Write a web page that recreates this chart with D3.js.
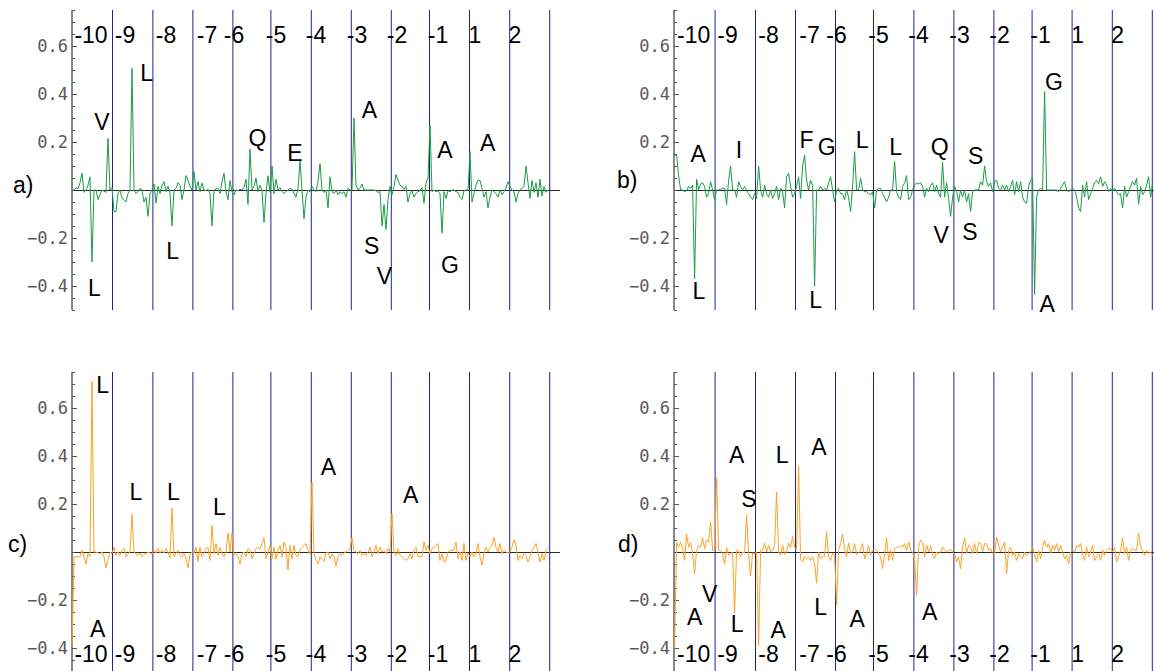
<!DOCTYPE html>
<html>
<head>
<meta charset="utf-8">
<script src="https://cdn.jsdelivr.net/npm/d3@7"></script>
<style>
  html, body { margin: 0; padding: 0; background: #fff; }
  svg { display: block; }
</style>
</head>
<body>
<svg id="chart" width="1154" height="671"></svg>
<script>
// Per-position signal for the four profiles (index = sequence position)
const seriesA = [
  0, 0, 0.01, 0.005, 0.03, 0.07, -0.01, 0, 0.02, 0.055,
  -0.30, 0, 0, -0.04, -0.02, 0, -0.005, -0.01, 0.215, 0,
  0.01, -0.09, -0.09, -0.015, 0, -0.035, -0.04, -0.05, -0.015, 0,
  0.507, 0, -0.015, -0.007, 0.007, 0, -0.05, -0.03, -0.11, -0.015,
  0, 0.025, -0.055, 0.015, -0.015, 0.02, 0.035, -0.007, 0.015, -0.015,
  -0.15, 0, 0.007, 0.03, 0.02, -0.04, 0, 0.06, 0.04, 0.015,
  0, 0.077, 0, 0.035, -0.007, 0.03, 0, -0.003, 0.003, -0.015,
  -0.15, 0, 0.005, 0.007, -0.015, 0.035, 0.07, -0.007, -0.04, 0.04,
  -0.007, -0.02, 0, -0.003, 0.003, 0, 0.01, 0.045, -0.06, 0.17,
  0, 0.015, 0.05, -0.007, 0.02, -0.003, -0.135, -0.015, 0.06, -0.01,
  0.1, -0.015, 0.045, 0, 0.01, -0.007, -0.015, -0.007, 0, 0.007,
  0.003, -0.015, -0.03, 0.007, 0.12, 0, -0.12, -0.03, 0, -0.007,
  0.015, 0, -0.007, 0.035, 0.11, 0, -0.01, 0, -0.075, 0.055,
  -0.007, -0.015, 0, -0.02, -0.007, -0.015, -0.007, -0.03, 0.007, 0,
  0, 0.30, 0.02, 0, 0.007, 0.025, 0, 0, 0, 0,
  0, 0, -0.003, -0.01, -0.007, -0.15, -0.06, -0.165, -0.04, 0.015,
  -0.02, 0.015, 0.065, 0.04, 0.02, 0.015, 0.003, 0.015, -0.05, -0.015,
  -0.003, -0.03, -0.015, -0.007, -0.003, 0.01, -0.055, 0.03, 0.05, 0.27,
  -0.007, 0, -0.007, -0.003, -0.015, -0.18, -0.007, -0.035, -0.003, -0.007,
  0, 0, -0.007, -0.01, -0.03, -0.04, -0.003, 0, 0, 0.16,
  -0.05, -0.015, 0.02, 0.04, 0.04, 0.007, -0.03, -0.007, -0.075, -0.03,
  0, -0.007, -0.015, -0.03, 0, -0.02, -0.007, 0.007, 0.035, 0.015,
  0, -0.007, -0.05, -0.015, 0, 0.007, 0.015, 0.1, 0.03, -0.035,
  0.04, -0.01, 0.03, -0.03, 0.045, -0.025, 0.015, -0.01, 0
];

const seriesB = [
  0.145, 0.145, 0.06, 0, 0, -0.007, -0.003, 0.015, 0.007, 0.02,
  -0.37, 0.045, 0, 0.025, 0.03, 0.015, -0.03, -0.015, 0.035, 0,
  -0.04, 0, 0, 0.003, 0.007, 0.007, -0.06, 0.04, 0.1, 0,
  0, -0.03, 0.035, 0.015, 0, 0.015, 0, -0.015, -0.03, -0.04,
  -0.015, -0.035, 0.1, 0, -0.03, 0.02, -0.015, -0.03, 0, -0.035,
  -0.015, 0.015, -0.04, 0.007, -0.007, -0.075, 0.055, 0.07, 0.015, -0.03,
  -0.015, 0.015, 0.055, -0.035, 0.1, 0.145, 0.04, 0, 0.04, 0.02,
  -0.40, 0, 0, 0.015, 0, 0.007, 0, 0.03, 0.055, 0,
  -0.05, 0, 0.007, -0.015, -0.015, -0.04, 0, -0.03, -0.09, 0.015,
  0.16, 0, 0, 0.05, 0, -0.007, -0.007, -0.015, -0.02, -0.007,
  -0.075, 0, 0.007, 0.007, -0.015, -0.03, -0.05, -0.03, 0, 0,
  0.12, -0.007, -0.03, -0.04, 0.015, 0.03, 0.06, -0.04, -0.03, 0,
  0.02, 0.03, 0.025, 0.03, 0.015, -0.03, 0.007, -0.007, 0.02, 0.03,
  -0.007, 0.02, -0.015, -0.03, 0.115, -0.03, 0.03, -0.035, -0.11, -0.03,
  0.015, -0.007, -0.05, 0, -0.03, 0, -0.05, -0.015, -0.09, -0.007,
  0, 0, 0, 0.035, 0.02, 0.1, 0.035, 0.015, 0.03, -0.007,
  0.035, 0.04, 0.007, 0, 0.02, 0, 0.02, -0.007, 0.015, 0.04,
  -0.02, 0.035, -0.007, 0.035, -0.03, -0.05, -0.055, 0.015, 0.04, 0.05,
  -0.435, -0.03, 0, 0.007, 0, 0.41, 0, 0, 0, 0,
  0, 0, -0.007, 0.007, 0.02, 0.035, 0, -0.007, 0, 0.007,
  0, -0.03, -0.075, -0.09, 0.02, -0.03, 0.035, -0.04, -0.015, 0.007,
  0.03, 0.04, 0.025, 0.055, 0.015, 0.035, 0.02, -0.007, 0.007, -0.007,
  0.007, -0.007, -0.02, -0.015, -0.075, 0.015, -0.03, -0.007, 0.015, 0.035,
  0.02, 0.05, -0.06, 0.015, -0.02, -0.007, 0.02, 0.055, -0.03, 0.03
];

const seriesC = [
  -0.395, -0.02, -0.02, -0.02, -0.02, 0.007, -0.02, -0.05, -0.007, -0.02,
  0.71, 0, 0, -0.004, -0.007, 0, -0.02, -0.065, -0.035, 0,
  -0.007, 0.02, -0.014, 0, -0.014, 0.007, 0.014, -0.02, -0.007, 0,
  0.157, 0, -0.007, -0.014, -0.004, -0.02, -0.01, -0.007, 0, -0.004,
  -0.01, 0.007, -0.004, 0.014, -0.004, 0.007, -0.004, 0.014, 0, -0.024,
  0.183, -0.02, -0.004, 0.007, -0.014, -0.02, -0.007, -0.028, -0.065, -0.007,
  0, -0.004, 0.02, -0.04, 0.02, -0.02, -0.007, 0.014, 0.02, -0.035,
  0.11, -0.007, 0.035, -0.014, 0.02, -0.007, -0.02, 0, 0.08, 0,
  0.08, -0.014, -0.007, -0.02, -0.05, -0.007, 0, -0.02, 0.014, 0.007,
  -0.028, -0.007, 0.014, 0.02, 0.014, 0.035, 0.06, -0.028, 0, 0.028,
  -0.028, 0.02, -0.028, 0.007, 0.028, -0.02, 0.042, 0.02, -0.075, 0.028,
  -0.028, 0.028, -0.014, -0.02, 0.01, 0.02, 0.028, 0.035, 0.007, -0.01,
  0.29, -0.007, -0.035, -0.05, -0.02, -0.03, -0.04, -0.004, 0, -0.028,
  -0.007, -0.02, -0.06, -0.02, -0.007, -0.014, -0.004, 0, 0.007, 0.014,
  0.06, 0.007, 0, -0.007, 0.007, -0.014, -0.007, -0.014, 0, 0.02,
  -0.02, 0, 0.028, -0.007, 0.02, 0, 0.007, -0.007, 0.014, 0,
  0.16, 0, -0.014, 0.014, -0.014, -0.02, -0.028, -0.035, -0.028, -0.007,
  -0.028, 0.007, 0.02, -0.02, -0.02, -0.02, 0.042, 0.007, 0.028, -0.007,
  0.014, 0.02, 0.028, 0.035, -0.035, -0.007, -0.042, -0.035, 0, 0.007,
  0.007, 0.007, 0.042, -0.028, 0, -0.035, 0.035, -0.035, -0.004, -0.02,
  0, -0.02, -0.007, 0.035, -0.02, -0.055, -0.004, 0.02, 0, 0.02,
  0.028, 0.06, 0.02, 0, 0.035, -0.007, 0.007, 0, -0.004, 0,
  0.02, 0.05, 0.028, -0.035, -0.014, -0.028, -0.007, -0.014, -0.042, -0.02,
  0.007, 0.02, 0.035, 0, -0.042, -0.007, -0.035, 0.007, 0.018
];

const seriesD = [
  -0.395, 0.04, 0.02, 0.04, 0.014, -0.035, 0.075, 0.02, 0.04, -0.004,
  -0.09, 0.007, 0.028, 0.02, 0.06, 0.014, 0.05, 0.042, 0.125, 0.007,
  0.007, 0.31, 0.007, 0.007, -0.007, -0.05, 0.018, -0.014, -0.007, 0,
  -0.255, 0.007, 0.007, -0.02, 0, -0.004, 0.155, -0.007, -0.1, -0.004,
  -0.007, 0, -0.39, 0.007, 0.007, 0.038, 0, 0.028, 0, 0.007,
  0.028, 0.25, 0, -0.014, 0.028, -0.01, 0, 0.038, 0.018, 0.065,
  0.02, 0.01, 0.36, -0.032, -0.042, -0.02, -0.028, -0.02, -0.035, -0.02,
  -0.049, -0.13, 0, -0.028, -0.02, -0.018, 0.085, -0.02, -0.035, -0.007,
  -0.01, -0.22, 0.007, 0.035, 0.075, 0.014, -0.02, 0.038, -0.007, 0,
  0.035, -0.01, -0.004, 0.007, 0.035, -0.028, -0.007, 0.028, -0.014, 0.007,
  0.014, 0.007, -0.004, -0.02, -0.07, -0.007, 0.06, -0.035, 0.007, -0.035,
  0.014, 0.02, 0.02, 0.028, 0.02, 0.035, 0.007, 0.042, 0.007, 0,
  -0.035, -0.18, 0.02, 0.05, 0.042, -0.02, 0.028, 0, 0.028, -0.014,
  -0.028, 0, -0.007, 0, 0.02, 0.007, 0, 0.007, 0.01, 0,
  -0.007, -0.042, -0.02, -0.07, 0.02, 0.06, -0.007, 0.028, 0.02, -0.007,
  0.035, -0.007, 0.038, 0.038, 0, 0.035, 0.035, 0.007, 0.014, -0.007,
  -0.007, 0.06, 0.028, 0, 0.02, 0.042, -0.09, 0.007, 0.02, -0.014,
  0, -0.035, -0.007, -0.02, -0.028, 0, -0.014, -0.007, 0, 0.02,
  -0.007, -0.042, 0.007, -0.028, 0.02, 0.049, 0.02, 0.035, -0.007, 0.028,
  0.007, 0.035, 0, 0.028, 0, -0.028, -0.014, -0.049, 0, 0.007,
  0, 0.028, 0.02, 0.035, -0.014, -0.035, 0.02, -0.02, 0, 0.028,
  -0.035, -0.02, -0.007, -0.035, 0.007, -0.014, 0.007, 0.014, 0.014, 0,
  0.02, -0.042, -0.02, 0.007, 0.06, -0.007, 0.02, -0.035, 0.007, 0.014,
  0.007, 0.007, 0.08, 0.02, 0.007, -0.014, 0.007, -0.007, 0, -0.014
];

// Residue letters: [letter, position index, value level]
const lettersA = [
  ["V", 14.9, 0.285], ["L", 37.3, 0.487], ["L", 11.2, -0.408], ["L", 50.3, -0.253],
  ["Q", 92.7, 0.218], ["E", 111.5, 0.154], ["A", 148.7, 0.336], ["S", 149.8, -0.232],
  ["V", 156.2, -0.358], ["A", 186.5, 0.167], ["G", 189, -0.31], ["A", 207.8, 0.199]
];
const lettersB = [
  ["A", 11.8, 0.15], ["L", 12.2, -0.42], ["I", 32.2, 0.167], ["F", 66, 0.211],
  ["G", 76, 0.18], ["L", 70.5, -0.458], ["L", 93.8, 0.211], ["L", 110.5, 0.18],
  ["Q", 132.5, 0.18], ["V", 133.3, -0.1875], ["S", 150.5, 0.142], ["S", 147.7, -0.174],
  ["A", 186.3, -0.475], ["G", 189.7, 0.451]
];
const lettersC = [
  ["L", 15.3, 0.696], ["A", 12.8, -0.318], ["L", 32, 0.251], ["L", 50.7, 0.251],
  ["L", 73.7, 0.189], ["A", 128.2, 0.355], ["A", 169.3, 0.2375]
];
const lettersD = [
  ["A", 10, -0.27], ["V", 17.5, -0.172], ["A", 31, 0.404], ["S", 37.2, 0.224],
  ["L", 31.3, -0.297], ["L", 53.8, 0.404], ["A", 51.8, -0.325], ["A", 72.2, 0.439],
  ["L", 73, -0.228], ["A", 91.3, -0.276], ["A", 127.5, -0.249]
];

// Segment boundaries and segment labels along the sequence
const boundaries = [20, 40.2, 60.2, 80.2, 99.2, 119.4, 139.4, 159.4, 178.5, 198.5, 218.6, 238.6];
const segmentLabels = ["-10", "-9", "-8", "-7", "-6", "-5", "-4", "-3", "-2", "-1", "1", "2"];
const segmentLabelPos = [9.5, 26.5, 47, 67.5, 81, 102, 122, 142.5, 162.5, 183, 201.5, 221.5];

// Value axis
const yMajorTicks = [-0.4, -0.2, 0.2, 0.4, 0.6];
const yDomain = [-0.5, 0.75];

const panels = [
  { tag: "a)", data: seriesA, letters: lettersA, x0: 72,  dx: 0,   top: 10,  color: "#1a9c46", labelsAtTop: true,  tagX: 13,  tagY: 193 },
  { tag: "b)", data: seriesB, letters: lettersB, x0: 674, dx: 0.6, top: 10,  color: "#1a9c46", labelsAtTop: true,  tagX: 617, tagY: 188 },
  { tag: "c)", data: seriesC, letters: lettersC, x0: 72,  dx: 0,   top: 372, color: "#ffa126", labelsAtTop: false, tagX: 8,   tagY: 552 },
  { tag: "d)", data: seriesD, letters: lettersD, x0: 674, dx: 0.6, top: 372, color: "#ffa126", labelsAtTop: false, tagX: 618, tagY: 552 }
];

const svg = d3.select("#chart");
svg.append("rect").attr("width", 1154).attr("height", 671).attr("fill", "#fff");

const H = 300;
const SANS = "'Liberation Sans', Arial, Helvetica, sans-serif";
const crisp = v => Math.round(v) + 0.5;

panels.forEach(p => {
  const x = d3.scaleLinear().domain([0, 240]).range([p.x0 + p.dx, p.x0 + p.dx + 480]);
  const y = d3.scaleLinear().domain(yDomain).range([p.top + H, p.top]);
  const g = svg.append("g");

  // segment boundaries
  g.selectAll("line.seg").data(boundaries).join("line")
    .attr("class", "seg")
    .attr("x1", d => x(d) + 0.5).attr("x2", d => x(d) + 0.5)
    .attr("y1", p.top).attr("y2", p.top + H)
    .attr("stroke", "#22228f").attr("stroke-width", 1);

  // zero line
  g.append("line")
    .attr("x1", p.x0).attr("x2", x(244))
    .attr("y1", crisp(y(0))).attr("y2", crisp(y(0)))
    .attr("stroke", "#2a2a2a").attr("stroke-width", 1);

  // minor ticks
  const minor = d3.range(-0.5, 0.7501, 0.05).map(v => +v.toFixed(2));
  g.append("g")
    .attr("transform", `translate(${p.x0},0)`)
    .call(d3.axisLeft(y).tickValues(minor).tickSize(-3).tickSizeOuter(0).tickFormat(""))
    .call(a => a.select(".domain").remove())
    .call(a => a.selectAll("line").attr("stroke", "#555"));

  // major ticks and labels
  g.append("g")
    .attr("transform", `translate(${p.x0},0)`)
    .call(d3.axisLeft(y).tickValues(yMajorTicks).tickSize(-5).tickSizeOuter(0).tickPadding(4)
      .tickFormat(d => (d < 0 ? "\u2212" : "") + Math.abs(d).toFixed(1)))
    .call(a => a.select(".domain").remove())
    .call(a => a.selectAll("line").attr("stroke", "#555"))
    .call(a => a.selectAll("text")
      .attr("font-family", "'DejaVu Sans Mono', 'Liberation Mono', monospace")
      .attr("font-size", 17).attr("fill", "#5a5a5a"));

  // axis spine
  g.append("line")
    .attr("x1", p.x0).attr("x2", p.x0)
    .attr("y1", p.top).attr("y2", p.top + H)
    .attr("stroke", "#555").attr("stroke-width", 1.4);

  // signal trace
  const line = d3.line().x((d, i) => x(i)).y(d => y(d));
  g.append("path").datum(p.data)
    .attr("d", line)
    .attr("fill", "none")
    .attr("stroke", p.color)
    .attr("stroke-width", 1)
    .attr("stroke-linejoin", "round");

  // segment labels
  const ly = p.labelsAtTop ? p.top + 33 : p.top + 290;
  g.selectAll("text.seglab").data(segmentLabels).join("text")
    .attr("class", "seglab")
    .attr("x", (d, i) => x(segmentLabelPos[i]))
    .attr("y", ly)
    .attr("text-anchor", "middle")
    .attr("font-family", SANS).attr("font-size", 23).attr("fill", "#000")
    .text(d => d);

  // residue letters
  g.selectAll("text.res").data(p.letters).join("text")
    .attr("class", "res")
    .attr("x", d => x(d[1]))
    .attr("y", d => y(d[2]))
    .attr("dy", "0.36em")
    .attr("text-anchor", "middle")
    .attr("font-family", SANS).attr("font-size", 23).attr("fill", "#000")
    .text(d => d[0]);

  // panel tag
  svg.append("text")
    .attr("x", p.tagX).attr("y", p.tagY)
    .attr("font-family", SANS).attr("font-size", 23).attr("fill", "#000")
    .text(p.tag);
});
</script>
</body>
</html>
